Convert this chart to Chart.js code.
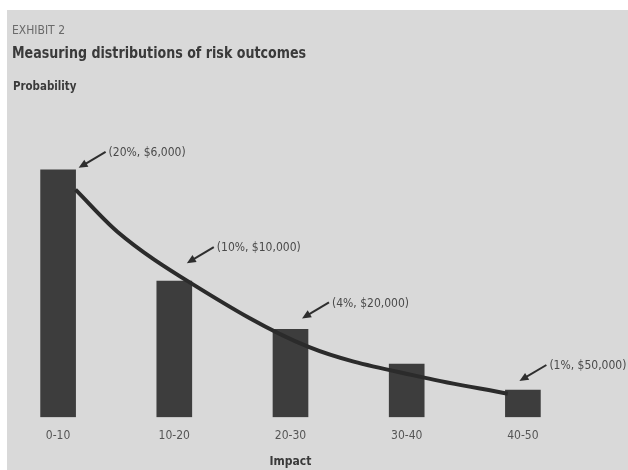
<!DOCTYPE html>
<html>
<head>
<meta charset="utf-8">
<script src="https://cdn.jsdelivr.net/npm/chart.js@4"></script>
<style>
  html, body { margin: 0; padding: 0; background: #fff; }
  #wrap { position: absolute; left: 7px; top: 10px; width: 621px; height: 460px; background: #d9d9d9; }
  canvas { position: absolute; left: 0; top: 0; }
</style>
</head>
<body>
<div id="wrap"></div>
<canvas id="myChart" width="628" height="470"></canvas>
<script>
const FONT = '"Liberation Sans Narrow", "DejaVu Sans Condensed", "Roboto Condensed", sans-serif'

// impact buckets and bar heights (relative probability)
const categories = ['0-10', '10-20', '20-30', '30-40', '40-50']
const barValues = [20, 11.0, 7.1, 4.3, 2.2]
// smoothed distribution curve, x in bucket units
const curveX = [0.15, 0.51, 1.15, 2.15, 3.15, 3.87]
const curveY = [18.4, 15.0, 10.8, 5.7, 3.2, 1.9]
// callouts: which bar, and its text
const calloutBars = [0, 1, 2, 4]
const calloutText = ['(20%, $6,000)', '(10%, $10,000)', '(4%, $20,000)', '(1%, $50,000)']

const canvas = document.getElementById('myChart')

// arrow tip offset from bar top-right corner
const tipOffsets = [[3, -2], [-5, -18], [-6, -11], [-21, -9]]

const headerPlugin = {
    id: 'header',
    afterDraw(chart) {
        const ctx = chart.ctx
        ctx.save()
        ctx.textBaseline = 'alphabetic'
        ctx.fillStyle = '#6a6a6a'
        ctx.font = '12px ' + FONT
        ctx.fillText('EXHIBIT 2', 12, 34)
        // condensed look
        ctx.translate(12, 0)
        ctx.scale(0.88, 1)
        ctx.fillStyle = '#3a3a3a'
        ctx.font = 'bold 16px ' + FONT
        ctx.fillText('Measuring distributions of risk outcomes', 0, 58)
        ctx.font = 'bold 13px ' + FONT
        ctx.fillText('Probability', 1, 90)
        ctx.restore()
    }
}

const calloutPlugin = {
    id: 'callouts',
    afterDatasetsDraw(chart) {
        const ctx = chart.ctx
        const bars = chart.getDatasetMeta(0).data
        ctx.save()
        ctx.strokeStyle = '#2e2e2e'
        ctx.fillStyle = '#2e2e2e'
        ctx.lineWidth = 2
        calloutBars.forEach((bi, i) => {
            const b = bars[bi]
            const tx = b.x + b.width / 2 + tipOffsets[i][0]
            const ty = b.y + tipOffsets[i][1]
            const sx = tx + 27, sy = ty - 16
            const ang = Math.atan2(ty - sy, tx - sx)
            ctx.beginPath()
            ctx.moveTo(sx, sy)
            ctx.lineTo(tx - 6 * Math.cos(ang), ty - 6 * Math.sin(ang))
            ctx.stroke()
            ctx.beginPath()
            ctx.moveTo(tx, ty)
            ctx.lineTo(tx - 9 * Math.cos(ang) + 4 * Math.sin(ang), ty - 9 * Math.sin(ang) - 4 * Math.cos(ang))
            ctx.lineTo(tx - 9 * Math.cos(ang) - 4 * Math.sin(ang), ty - 9 * Math.sin(ang) + 4 * Math.cos(ang))
            ctx.closePath()
            ctx.fill()
            ctx.fillStyle = '#4a4a4a'
            ctx.font = '12px ' + FONT
            ctx.textBaseline = 'middle'
            ctx.fillText(calloutText[i], sx + 3, sy + 1)
            ctx.fillStyle = '#2e2e2e'
        })
        ctx.restore()
    }
}

const config = {
    data: {
        labels: categories,
        datasets: [{
            type: 'bar',
            data: barValues,
            backgroundColor: '#3d3d3d',
            barThickness: 35,
            grouped: false,
            order: 2
        }, {
            type: 'line',
            data: curveX.map((x, i) => ({ x, y: curveY[i] })),
            xAxisID: 'x2',
            borderColor: '#2b2b2b',
            borderWidth: 4,
            pointRadius: 0,
            cubicInterpolationMode: 'monotone',
            order: 1
        }]
    },
    options: {
        responsive: false,
        animation: false,
        layout: {
            padding: { left: 0, right: 47, top: 108, bottom: 0 }
        },
        plugins: {
            legend: { display: false },
            tooltip: { enabled: false }
        },
        scales: {
            x: {
                grid: { display: false },
                border: { display: false },
                ticks: { color: '#555', font: { family: FONT, size: 12 }, padding: 3 },
                title: { display: true, text: 'Impact', color: '#3a3a3a', font: { family: FONT, size: 12, weight: 'bold' }, padding: { top: 9, bottom: 1 } }
            },
            x2: {
                type: 'linear',
                display: false,
                min: -0.5,
                max: 4.5
            },
            y: {
                display: false,
                min: 0,
                max: 25
            }
        }
    },
    plugins: [headerPlugin, calloutPlugin]
}

new Chart(canvas, config)
</script>
</body>
</html>
